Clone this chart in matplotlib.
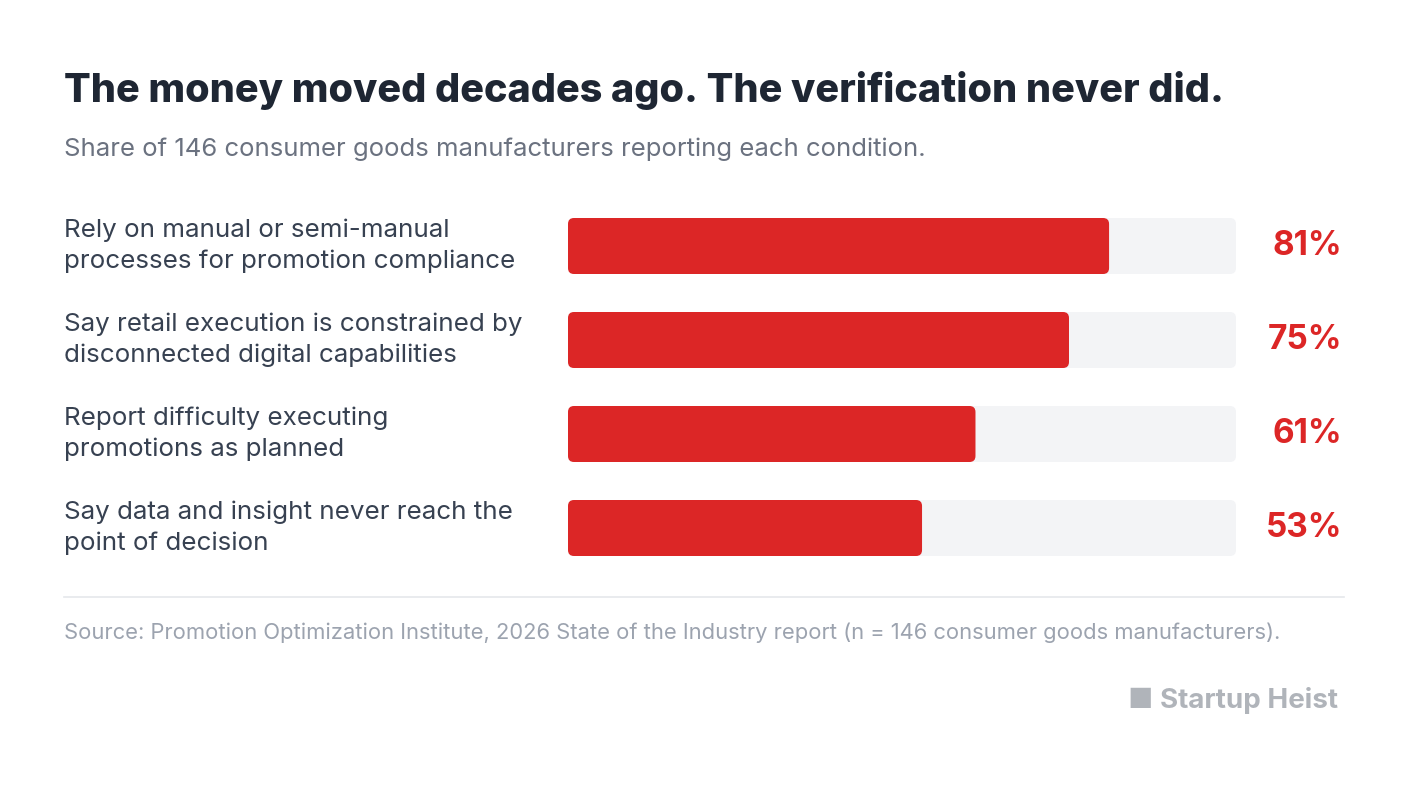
import matplotlib
matplotlib.use("Agg")
import matplotlib.pyplot as plt
from matplotlib.patches import FancyBboxPatch

labels = ["Rely on manual or semi-manual\nprocesses for promotion compliance",
          "Say retail execution is constrained by\ndisconnected digital capabilities",
          "Report difficulty executing\npromotions as planned",
          "Say data and insight never reach the\npoint of decision"]
values = [81, 75, 61, 53]

plt.rcParams['font.family'] = ['Inter', 'DejaVu Sans']
W, H = 1408, 786
fig = plt.figure(figsize=(W/100, H/100), dpi=100)
fig.patch.set_facecolor('white')

fig.text(64/W, 1-90/H, "The money moved decades ago. The verification never did.",
         fontsize=28.5, fontweight='heavy', color='#1e2633', va='center')
fig.text(64/W, 1-149/H, "Share of 146 consumer goods manufacturers reporting each condition.",
         fontsize=18.5, color='#6b7280', va='center')

x0, x1 = 568, 1236
top, bot = 200, 574
ax = fig.add_axes([x0/W, 1-bot/H, (x1-x0)/W, (bot-top)/H])
ax.set_xlim(0, 100)
ax.set_ylim(bot, top)
ax.axis('off')
xu = 100/(x1-x0)
centers = [246, 340, 434, 528]
bh = 56
for c, lab, v in zip(centers, labels, values):
    for w, col in [(100, '#f3f4f6'), (v, '#dc2626')]:
        p = FancyBboxPatch((0, c-bh/2), w, bh, boxstyle=f"round,pad=0,rounding_size={6*xu}",
                           mutation_aspect=1/xu, fc=col, ec='none')
        ax.add_patch(p)
    fig.text(64/W, 1-c/H, lab, fontsize=18.7, color='#374151', va='center', linespacing=1.4)
    fig.text(1342/W, 1-c/H, f"{v}%", fontsize=24, fontweight='bold', color='#dc2626',
             va='center', ha='right')

fig.add_artist(plt.Line2D([64/W, 1344/W], [1-597/H]*2, color='#e5e7eb', lw=1.2))
fig.text(64/W, 1-633/H, "Source: Promotion Optimization Institute, 2026 State of the Industry report (n = 146 consumer goods manufacturers).",
         fontsize=15.8, color='#9ca3af', va='center')
fig.text(1338/W, 1-700/H, "\u25A0 Startup Heist", fontsize=20, fontweight='bold', color='#b0b4ba',
         va='center', ha='right')
fig.savefig("out.png", dpi=100, facecolor='white')
